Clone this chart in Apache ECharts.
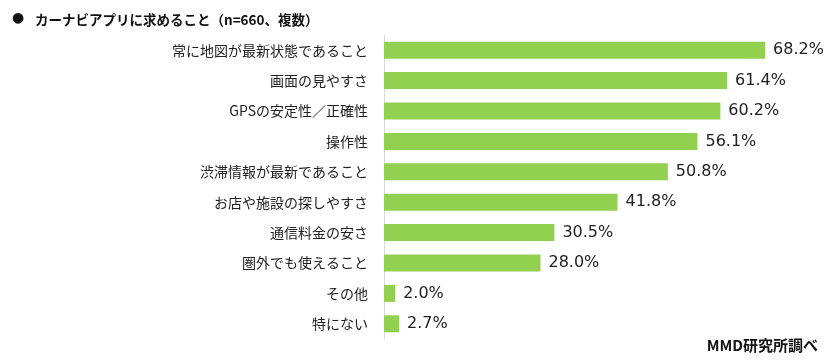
<!DOCTYPE html>
<html><head><meta charset="utf-8">
<script src="https://cdn.jsdelivr.net/npm/echarts@6/dist/echarts.min.js"></script>
<style>html,body{margin:0;padding:0;background:#fff}#c{width:834px;height:360px}</style>
</head><body><div id="c"></div>
<script>
const categories = ["常に地図が最新状態であること","画面の見やすさ","GPSの安定性／正確性","操作性","渋滞情報が最新であること","お店や施設の探しやすさ","通信料金の安さ","圏外でも使えること","その他","特にない"];
const values = [68.2,61.4,60.2,56.1,50.8,41.8,30.5,28.0,2.0,2.7];
const titleText = "カーナビアプリに求めること（n=660、複数）";
const sourceText = "MMD研究所調べ";

const chart = echarts.init(document.getElementById('c'), null, {renderer:'canvas'});
chart.setOption({
  animation:false,
  backgroundColor:'#fff',
  title:[
    {text:'●', left:7, top:6, textStyle:{fontFamily:'"DejaVu Sans", sans-serif', fontSize:14, fontWeight:'bold', color:'#111'}},
    {text:titleText, left:30, top:8, textStyle:{fontFamily:'"Noto Sans CJK JP", sans-serif', fontSize:13.5, fontWeight:'bold', color:'#111'}},
    {text:sourceText, right:11, top:333, textStyle:{fontFamily:'"Noto Sans CJK JP", sans-serif', fontSize:15, fontWeight:'bold', color:'#111'}}
  ],
  grid:{left:384, top:35, width:447, height:304, containLabel:false},
  xAxis:{type:'value', min:0, max:80, show:false},
  yAxis:{type:'category', data:categories, inverse:true,
    axisLine:{show:true, lineStyle:{color:'#d9d9d9', width:1}},
    axisTick:{show:false},
    axisLabel:{margin:16, fontSize:14, color:'#222', fontFamily:'"Noto Sans CJK JP", sans-serif'}
  },
  series:[{type:'bar', data:values, barWidth:17,
    itemStyle:{color:'#92d050'},
    label:{show:true, position:'right', distance:8, formatter:p=>p.value.toFixed(1)+'%', fontSize:16, color:'#222', fontFamily:'"DejaVu Sans", sans-serif'}
  }]
});
</script></body></html>
